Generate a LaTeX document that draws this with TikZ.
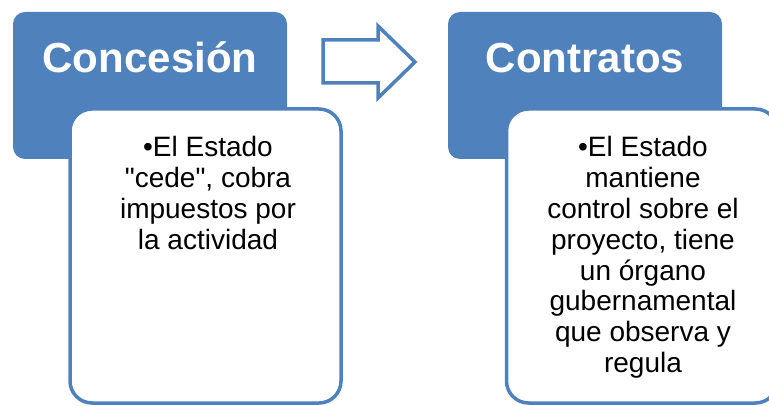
\documentclass[tikz,border=0pt]{standalone}
\usepackage{fontspec}
\setmainfont{Liberation Sans}[Ligatures=TeXOff]
\usepackage{tikz}
\usetikzlibrary{positioning}
\definecolor{officeblue}{HTML}{4F81BD}

\tikzset{
	headbox/.style={fill=officeblue, rounded corners=12pt, minimum width=274pt, minimum height=147pt, inner sep=0pt},
	headtext/.style={text=white, font=\fontsize{42}{50}\selectfont\bfseries, inner sep=0pt},
	bodybox/.style={draw=officeblue, fill=white, line width=3.5pt, rounded corners=22pt, minimum width=271pt, minimum height=294pt, inner sep=0pt},
	bodytext/.style={align=center, font=\fontsize{28}{30.8}\selectfont, inner sep=0pt, anchor=north},
	bigarrow/.style={draw=officeblue, fill=white, line width=3.5pt, line join=miter}
}

\begin{document}
\begin{tikzpicture}[x=1pt, y=-1pt]

	\useasboundingbox (0,0) rectangle (769,406);

	\node [headbox] (concesion) at (150,85.5) {};
	\node [headbox] (contratos) at (585,85.5) {};
	\node [headtext, anchor=base] (concesiontitle) at (150,73) {Concesión};
	\node [headtext, anchor=base] (contratostitle) at (585,73) {Contratos};

	\node [bodybox] (concesionbody) at (205.5,256) {};
	\node [bodybox] (contratosbody) at (642,256) {};
	\node [bodytext] (concesiontext) at (208,136.5) {•El Estado\\"cede", cobra\\impuestos por\\la actividad};
	\node [bodytext] (contratostext) at (643,136.5) {•El Estado\\mantiene\\control sobre el\\proyecto, tiene\\un órgano\\gubernamental\\que observa y\\regula};

	\draw [bigarrow] (323,40) -- (378,40) -- (378,26) -- (415,62) -- (378,98) -- (378,83) -- (323,83) -- cycle;

\end{tikzpicture}
\end{document}
